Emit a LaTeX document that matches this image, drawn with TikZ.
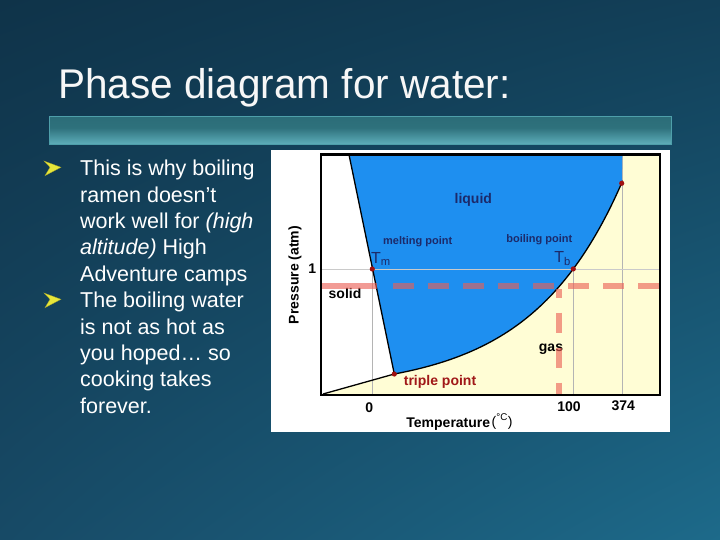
\documentclass[tikz,border=0pt]{standalone}
\usepackage{fontspec}
\setmainfont{Liberation Sans}
\usetikzlibrary{shadings}
\definecolor{bgTL}{HTML}{0F3349}
\definecolor{bgTR}{HTML}{123F58}
\definecolor{bgBL}{HTML}{174A66}
\definecolor{bgBR}{HTML}{1D6A8A}
\definecolor{barB}{HTML}{8CD6E0}
\definecolor{barL}{HTML}{5FAFBB}
\definecolor{barM}{HTML}{2E717C}
\definecolor{barD}{HTML}{2A6A76}
\definecolor{barT}{HTML}{3A828E}
\definecolor{barEdge}{HTML}{4E9FAA}
\definecolor{cream}{HTML}{FFFDD5}
\definecolor{liqblue}{HTML}{1E8FF0}
\definecolor{gridgray}{HTML}{B4B4B4}
\definecolor{salmon}{HTML}{EB5F55}
\definecolor{dotred}{HTML}{A01010}
\definecolor{navy}{HTML}{1C2A6A}
\definecolor{tpred}{HTML}{A01818}
\definecolor{bulletyellow}{HTML}{E6E63A}
\pgfdeclareverticalshading{barshade}{100bp}{color(0bp)=(barB); color(25bp)=(barL); color(55bp)=(barM); color(88bp)=(barD); color(100bp)=(barT)}
\tikzset{
  bodytext/.style={anchor=base west, inner sep=0, text=white, font=\fontsize{21.5}{26}\selectfont},
  lbl/.style={inner sep=0, font=\fontsize{14}{14}\selectfont\bfseries},
  small/.style={inner sep=0, font=\fontsize{11}{11}\selectfont\bfseries, text=navy},
  dashline/.style={salmon, opacity=0.62, line width=6pt},
  curve/.style={black, line width=1.3pt},
  gridline/.style={gridgray, line width=1pt},
  bulletarrow/.style={fill=bulletyellow, draw=bulletyellow!70!black, line width=0.3pt},
}
\begin{document}
\begin{tikzpicture}[x=1pt,y=-1pt]
\useasboundingbox (0,0) rectangle (720,540);
\shade[upper left=bgTL, upper right=bgTR, lower left=bgBL, lower right=bgBR] (0,0) rectangle (720,540);
% title
\node[anchor=base west, inner sep=0, font=\fontsize{41.5}{41.5}\selectfont\addfontfeature{FakeStretch=0.975}, text=white!94!gray] (title) at (58.3,98.3) {Phase diagram for water:};
\shade[shading=barshade, draw=barEdge, line width=1pt] (49,116.7) rectangle (671,144.3);
% bullets
\fill[bulletarrow] (44,161) -- (61,167.3) -- (45,175.7) -- (50,167.3) -- cycle;
\fill[bulletarrow] (44,293) -- (61,299.3) -- (45,307.7) -- (50,299.3) -- cycle;
\node[bodytext] (l1) at (80,175.7) {This is why boiling};
\node[bodytext] (l2) at (80,202.1) {ramen doesn’t};
\node[bodytext] (l3) at (80,228.5) {work well for \textit{(high}};
\node[bodytext] (l4) at (80,254.9) {\textit{altitude)} High};
\node[bodytext] (l5) at (80,281.3) {Adventure camps};
\node[bodytext] (l6) at (80,307.7) {The boiling water};
\node[bodytext] (l7) at (80,334.1) {is not as hot as};
\node[bodytext] (l8) at (80,360.5) {you hoped… so};
\node[bodytext] (l9) at (80,386.9) {cooking takes};
\node[bodytext] (l10) at (80,413.3) {forever.};
% panel
\fill[white] (271,150) rectangle (670,432);
% key points
\coordinate (TL) at (320.7,154.7);
\coordinate (BR) at (660,395);
\coordinate (SL) at (349,154.7);
\coordinate (TP) at (394.3,374);
\coordinate (O) at (323,394);
\coordinate (Tm) at (372.3,269);
\coordinate (Tb) at (573.3,268.9);
\coordinate (CP) at (621.7,183.3);
\coordinate (CT) at (622.3,154.7);
% regions
\fill[cream] (TL) rectangle (BR);
\fill[white] (TL) -- (SL) -- (TP) -- (O) -- (320.7,395) -- cycle;
\draw[gridline] (372.3,154.7) -- (372.3,395);
\draw[gridline] (573.3,154.7) -- (573.3,395);
\draw[gridline] (622.3,154.7) -- (622.3,395);
\fill[liqblue] (SL) -- plot[domain=0:227.4, samples=80, variable=\u] ({394.3+\u},{374-17.05*(exp(0.011*\u)-1)}) -- (CT) -- cycle;
\draw[gridline, gridgray!70] (320.7,269) -- (660,269);
% curves
\draw[curve] (SL) -- (TP);
\draw[curve] (O) -- (TP);
\draw[curve] (TP) -- plot[domain=0:227.4, samples=80, variable=\u] ({394.3+\u},{374-17.05*(exp(0.011*\u)-1)}) -- (CP);
% labels
\node[lbl, text=navy] (liquid) at (473.3,200) {liquid};
\node[small] (melt) at (417.7,241.7) {melting point};
\node[small] (boil) at (539.3,239.3) {boiling point};
\node[inner sep=0, text=navy, font=\fontsize{16}{16}\selectfont] (TmL) at (381,259) {T\textsubscript{m}};
\node[inner sep=0, text=navy, font=\fontsize{16}{16}\selectfont] (TbL) at (562.5,258.5) {T\textsubscript{b}};
\node[lbl] (solid) at (345,293.3) {solid};
\node[lbl] (gas) at (551,349.3) {gas};
\node[lbl, text=tpred] (tpl) at (440,381.7) {triple point};
% dashed lines
\draw[dashline] (320.7,286) -- (377,286);
\draw[dashline, dash pattern=on 21pt off 14pt] (393.3,286) -- (660,286);
\draw[dashline, dash pattern=on 20pt off 15pt, dash phase=11.3pt] (558.7,289) -- (558.7,395);
% dots
\fill[dotred] (TP) circle (2.6);
\fill[dotred] (Tm) circle (2.6);
\fill[dotred] (Tb) circle (2.6);
\fill[dotred] (CP) circle (2.6);
% frame
\draw[black, line width=2.4pt] (TL) rectangle (BR);
% axes labels
\node[lbl] (one) at (312.3,269) {1};
\node[lbl] (zero) at (369.3,407.3) {0};
\node[lbl] (hundred) at (569,406.7) {100};
\node[lbl] (crit) at (623.3,406) {374};
\node[lbl] (temp) at (448.3,424) {Temperature};
\node[anchor=west, inner sep=0, font=\fontsize{14}{14}\selectfont] (unit) at (491.5,421.5) {(\textsuperscript{°C})};
\node[lbl, rotate=90] (press) at (295,275) {Pressure (atm)};
\end{tikzpicture}
\end{document}
